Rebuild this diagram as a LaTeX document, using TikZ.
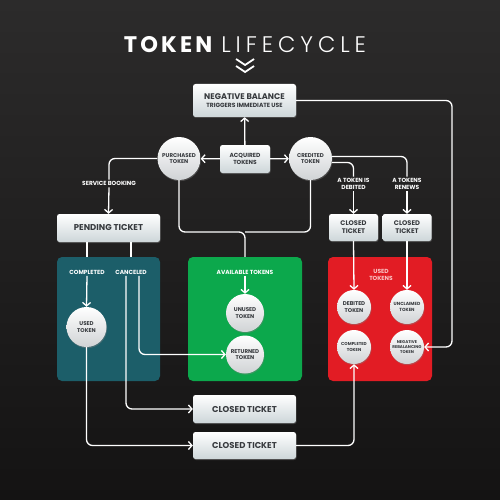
\documentclass[tikz,border=0pt]{standalone}
\usepackage{fontspec}
\setmainfont{Poppins}
\newfontfamily\lightfont{Poppins Light}
\usetikzlibrary{arrows.meta,shadows}
\definecolor{bgtop}{RGB}{44,43,43}
\definecolor{bgbot}{RGB}{20,19,19}
\definecolor{tealc}{RGB}{28,94,105}
\definecolor{greenc}{RGB}{12,168,76}
\definecolor{redc}{RGB}{226,28,36}
\definecolor{boxbot}{RGB}{205,214,217}
\definecolor{tokbot}{RGB}{208,211,213}
\definecolor{boxtxt}{RGB}{55,58,62}
\definecolor{pinkc}{RGB}{250,196,196}
\tikzset{
  wbox/.style={rectangle, rounded corners=2.5pt, top color=white, bottom color=boxbot,
    text=boxtxt, font=\bfseries\fontsize{8.5}{9.5}\selectfont, align=center, inner sep=0pt,
    drop shadow={opacity=0.4,shadow xshift=0.6pt,shadow yshift=-1pt}},
  tok/.style={circle, inner sep=0pt, top color=white, bottom color=tokbot, text=boxtxt,
    font=\bfseries\fontsize{5.5}{6.8}\selectfont, align=center,
    drop shadow={opacity=0.4,shadow xshift=0.6pt,shadow yshift=-1.2pt}},
  lbl/.style={text=white, font=\bfseries\fontsize{5.9}{7.2}\selectfont, align=center, inner sep=1.5pt},
  panel/.style={rectangle, rounded corners=5pt, inner sep=0pt},
  ln/.style={draw=white, line width=1.3pt, rounded corners=6pt},
  arr/.style={ln, -{Straight Barb[length=3.5pt,width=8pt,line width=1.3pt]}},
}
\begin{document}
\begin{tikzpicture}[x=1pt,y=-1pt]
\shade[top color=bgtop, bottom color=bgbot] (0,0) rectangle (500,500);
\useasboundingbox (0,0) rectangle (500,500);

% title
\node[text=white, font=\fontsize{22.5}{24}\selectfont, inner sep=0pt] (title) at (245,45)
  {{\bfseries\addfontfeature{LetterSpace=14}TOKEN}\hspace{9pt}{\lightfont\addfontfeature{LetterSpace=22}LIFECYCLE}};
\draw[white, line width=1.8pt] (236,59) -- (245,65) -- (254,59);
\draw[white, line width=1.8pt] (236,66) -- (245,72) -- (254,66);

% panels
\node[panel, fill=tealc, minimum width=103pt, minimum height=124pt] (teal) at (108.5,319) {};
\node[panel, fill=greenc, minimum width=114pt, minimum height=124pt] (green) at (245,319) {};
\node[panel, fill=redc, minimum width=104pt, minimum height=124pt] (red) at (380,319) {};

% boxes
\node[wbox, minimum width=103pt, minimum height=33pt, font=\bfseries\fontsize{8.2}{9.2}\selectfont] (nb) at (244.5,100.5)
  {NEGATIVE BALANCE\\[-1.5pt]{\fontsize{6}{7}\selectfont TRIGGERS IMMEDIATE USE}};
\node[wbox, minimum width=50pt, minimum height=28pt, font=\bfseries\fontsize{5.9}{7.2}\selectfont] (acq) at (245,159) {ACQUIRED\\TOKENS};
\node[wbox, minimum width=103pt, minimum height=28pt] (pend) at (108.5,228) {PENDING TICKET};
\node[wbox, minimum width=49pt, minimum height=27pt, font=\bfseries\fontsize{6.7}{8}\selectfont] (ctL) at (353.5,227.5) {CLOSED\\TICKET};
\node[wbox, minimum width=49pt, minimum height=27pt, font=\bfseries\fontsize{6.7}{8}\selectfont] (ctR) at (407,227.5) {CLOSED\\TICKET};
\node[wbox, minimum width=103pt, minimum height=28pt] (ct1) at (244.5,409) {CLOSED TICKET};
\node[wbox, minimum width=103pt, minimum height=27pt] (ct2) at (244.5,445.5) {CLOSED TICKET};

% tokens
\node[tok, minimum size=43pt] (purch) at (179,158.5) {PURCHASED\\TOKEN};
\node[tok, minimum size=43pt] (cred) at (310.5,158.5) {CREDITED\\TOKEN};
\node[tok, minimum size=40pt] (used) at (86.5,327) {USED\\TOKEN};
\node[tok, minimum size=38pt] (unused) at (245,313) {UNUSED\\TOKEN};
\node[tok, minimum size=38pt] (ret) at (245,354.5) {RETURNED\\TOKEN};
\node[tok, minimum size=34pt] (deb) at (354,307) {DEBITED\\TOKEN};
\node[tok, minimum size=34pt, font=\bfseries\fontsize{4.5}{6.2}\selectfont] (uncl) at (407,307) {UNCLAIMED\\TOKEN};
\node[tok, minimum size=34pt, font=\bfseries\fontsize{4.3}{6}\selectfont] (compt) at (354,347) {COMPLETED\\TOKEN};
\node[tok, minimum size=34pt, font=\bfseries\fontsize{4.1}{5}\selectfont] (nrt) at (407,347) {NEGATIVE\\REBALANCING\\TOKEN};

% labels
\node[lbl] (sb) at (109,183.5) {SERVICE BOOKING};
\node[lbl] (debl) at (353.5,184) {A TOKEN IS\\DEBITED};
\node[lbl] (renl) at (407,184) {A TOKENS\\RENEWS};
\node[lbl] (compl) at (87,272) {COMPLETED};
\node[lbl] (canl) at (131,272) {CANCELED};
\node[lbl] (avl) at (245,272) {AVAILABLE TOKENS};
\node[lbl, text=pinkc] (usedl) at (381,275) {USED\\TOKENS};
\coordinate (fork) at (245,232);
\coordinate (rc) at (452,347);

% connectors
\draw[arr] (acq) -- (nb);
\draw[arr] (acq) -- (purch);
\draw[arr] (acq) -- (cred);
\draw[ln] (purch.west) -| (sb.north);
\draw[arr] (sb.south) -- (pend.north);
\draw[ln] ([yshift=2pt]cred.east) -| (renl.north);
\draw[arr] (renl.south) -- (ctR.north);
\draw[ln] ([yshift=-4pt]cred.east) -| (debl.north);
\draw[arr] (debl.south) -- (ctL.north);
\draw[arr] (ctL.south) -- (deb.north);
\draw[arr] (ctR.south) -- (uncl.north);
\draw[ln] (purch.south) |- (fork) -- (green.north);
\draw[ln] (cred.south) |- (fork);
\draw[arr] (nb.east) -| (rc) -- (nrt.east);
\draw[ln] (pend.south -| compl) -- (teal.north -| compl);
\draw[ln] (pend.south -| canl) -- (teal.north -| canl);
\draw[arr] (compl.south) -- (used.north);
\draw[arr] (avl.south) -- (unused.north);
\draw[arr] ([xshift=-5pt]canl.south) |- (ct1.west);
\draw[arr] ([xshift=8pt]canl.south) |- (ret.west);
\draw[arr] (used.south) |- (ct2.west);
\draw[arr] (ct2.east) -| (compt.south);
\end{tikzpicture}
\end{document}
